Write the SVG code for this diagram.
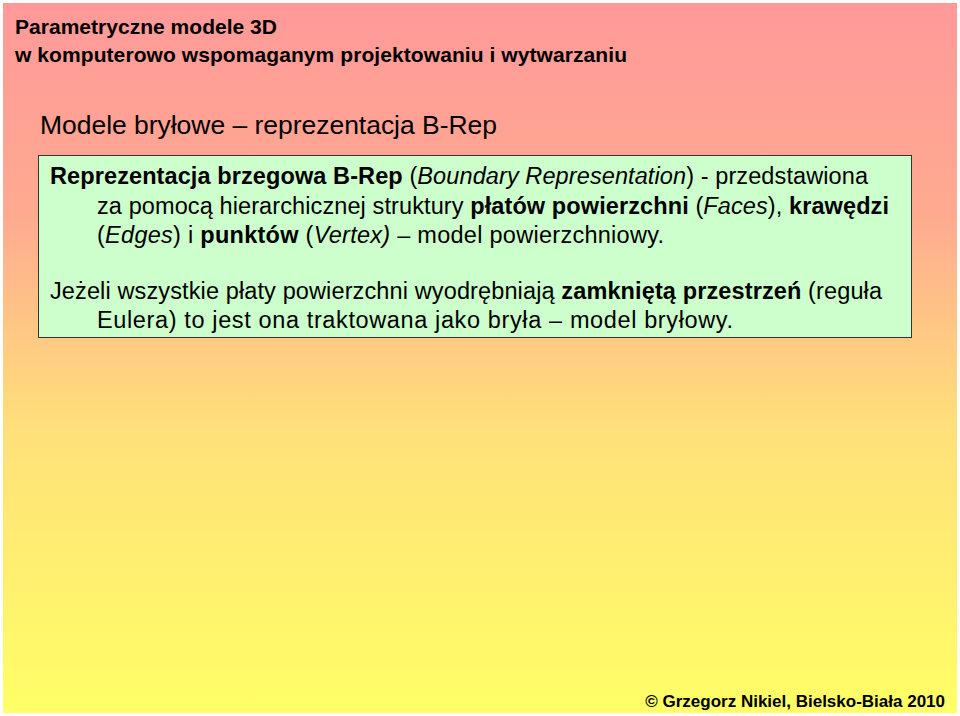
<svg xmlns="http://www.w3.org/2000/svg" width="960" height="716" viewBox="0 0 960 716">
<defs>
<linearGradient id="bg" x1="0" y1="0" x2="0" y2="1">
<stop offset="0" stop-color="#FF9999"/>
<stop offset="0.3" stop-color="#FFAA90"/>
<stop offset="0.6" stop-color="#FFE07A"/>
<stop offset="1" stop-color="#FFFF66"/>
</linearGradient>
<style>
text{font-family:"Liberation Sans",Arial,sans-serif;fill:#000}
.h{font-size:21px;font-weight:bold}
.f{font-size:17px;font-weight:bold}
.t{font-size:26.5px}
.b{font-size:23.5px}
.bo{font-weight:bold}
.it{font-style:italic}
</style>
</defs>
<rect x="0" y="0" width="960" height="716" fill="#fff"/>
<rect x="3" y="3" width="954" height="710" fill="url(#bg)"/>
<g id="header">
<text class="h" x="15" y="34" textLength="262">Parametryczne modele 3D</text>
<text class="h" x="15" y="62" textLength="612">w komputerowo wspomaganym projektowaniu i wytwarzaniu</text>
</g>
<g id="title"><text class="t" x="40" y="134" textLength="457">Modele bryłowe – reprezentacja B-Rep</text></g>
<g id="box">
<rect x="38.5" y="155.5" width="873" height="182" fill="#CCFFCC" stroke="#333" stroke-width="1"/>
<text class="b" x="50" y="184" textLength="818"><tspan class="bo">Reprezentacja brzegowa B-Rep</tspan> (<tspan class="it">Boundary Representation</tspan>) - przedstawiona</text>
<text class="b" x="97" y="214" textLength="792">za pomocą hierarchicznej struktury <tspan class="bo">płatów powierzchni</tspan> (<tspan class="it">Faces</tspan>), <tspan class="bo">krawędzi</tspan></text>
<text class="b" x="97" y="243" textLength="567">(<tspan class="it">Edges</tspan>) i <tspan class="bo">punktów</tspan> (<tspan class="it">Vertex)</tspan> – model powierzchniowy.</text>
<text class="b" x="50" y="299" textLength="832">Jeżeli wszystkie płaty powierzchni wyodrębniają <tspan class="bo">zamkniętą przestrzeń</tspan> (reguła</text>
<text class="b" x="97" y="328" textLength="636">Eulera) to jest ona traktowana jako bryła – model bryłowy.</text>
</g>
<g id="footer"><text class="f" x="945" y="707" text-anchor="end">© Grzegorz Nikiel, Bielsko-Biała 2010</text></g>
</svg>
